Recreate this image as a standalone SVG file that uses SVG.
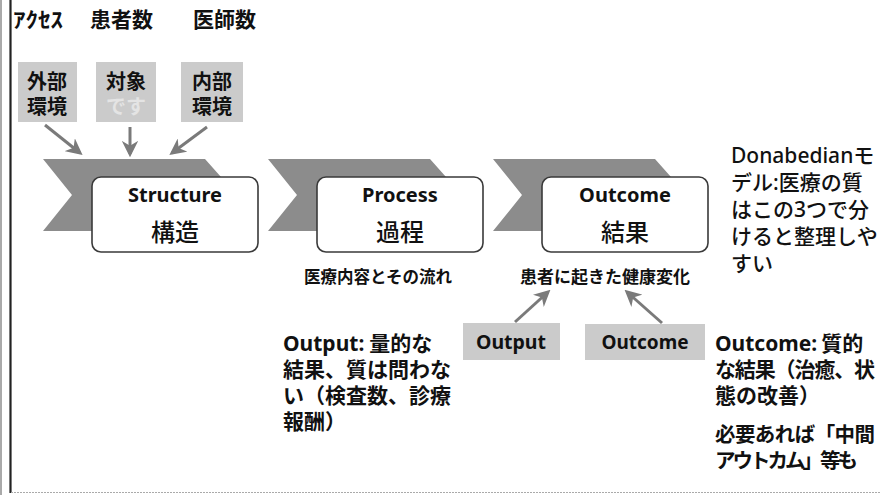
<svg xmlns="http://www.w3.org/2000/svg" width="881" height="495" viewBox="0 0 881 495">
<defs>
<style>
.jp{font-family:"Noto Sans","Noto Sans CJK JP",sans-serif;fill:#111}
.b{font-weight:bold}
.chev{fill:#8c8c8c}
.box{fill:#fff;stroke:#3a3a3a;stroke-width:1.6}
.tag{fill:#cbcbcb}
.arr{stroke:#7a7a7a;stroke-width:3;fill:none;marker-end:url(#ah)}
</style>
<marker id="ah" viewBox="0 0 10 10" refX="8" refY="5" markerWidth="5.5" markerHeight="5.5" orient="auto" markerUnits="strokeWidth">
<path d="M0,0 L10,5 L0,10 L3,5 Z" fill="#7a7a7a"/>
</marker>
</defs>
<rect width="881" height="495" fill="#fff"/>
<g id="frame">
<line x1="1" y1="0" x2="1" y2="495" stroke="#555" stroke-width="1"/>
<line x1="10.5" y1="0" x2="10.5" y2="493" stroke="#222" stroke-width="2.2"/>
<line x1="11" y1="492.5" x2="881" y2="492.5" stroke="#aaa" stroke-width="1" stroke-dasharray="2,1"/>
</g>
<g id="top-labels">
<text class="jp b" x="13" y="27" font-size="21" textLength="50" lengthAdjust="spacingAndGlyphs">ｱｸｾｽ</text>
<text class="jp b" x="90" y="27" font-size="21">患者数</text>
<text class="jp b" x="193" y="27" font-size="21">医師数</text>
</g>
<g id="gaibu">
<rect class="tag" x="18" y="62" width="59" height="60"/>
<text class="jp b" x="47" y="89" font-size="20" text-anchor="middle">外部</text>
<text class="jp b" x="47" y="114" font-size="20" text-anchor="middle">環境</text>
</g>
<g id="taisho">
<rect class="tag" x="96" y="62" width="60" height="60"/>
<text class="jp b" x="126" y="89" font-size="20" text-anchor="middle">対象</text>
<text class="jp b" x="126" y="114" font-size="20" text-anchor="middle" style="fill:#e4e4e4">です</text>
</g>
<g id="naibu">
<rect class="tag" x="181" y="62" width="62" height="60"/>
<text class="jp b" x="212" y="89" font-size="20" text-anchor="middle">内部</text>
<text class="jp b" x="212" y="114" font-size="20" text-anchor="middle">環境</text>
</g>
<g id="structure">
<polygon class="chev" points="43,159 205,159 237,195 205,231 43,231 72,195"/>
<rect class="box" x="92" y="177" width="166" height="75" rx="9"/>
<text class="jp b" x="175" y="202" font-size="20" text-anchor="middle">Structure</text>
<text class="jp" x="175" y="241" font-size="24" text-anchor="middle" font-weight="500">構造</text>
</g>
<g id="process">
<polygon class="chev" points="268,159 430,159 462,195 430,231 268,231 297,195"/>
<rect class="box" x="317" y="177" width="166" height="75" rx="9"/>
<text class="jp b" x="400" y="202" font-size="20" text-anchor="middle">Process</text>
<text class="jp" x="400" y="241" font-size="24" text-anchor="middle" font-weight="500">過程</text>
</g>
<g id="outcome">
<polygon class="chev" points="493,159 655,159 687,195 655,231 493,231 522,195"/>
<rect class="box" x="542" y="177" width="166" height="75" rx="9"/>
<text class="jp b" x="625" y="202" font-size="20" text-anchor="middle">Outcome</text>
<text class="jp" x="625" y="241" font-size="24" text-anchor="middle" font-weight="500">結果</text>
</g>
<g id="process-note">
<text class="jp b" x="378" y="283" font-size="16.5" text-anchor="middle">医療内容とその流れ</text>
</g>
<g id="outcome-note">
<text class="jp b" x="605" y="283" font-size="17" text-anchor="middle">患者に起きた健康変化</text>
</g>
<g id="output-tag">
<rect class="tag" x="463" y="323" width="97" height="37"/>
<text class="jp b" x="511" y="349" font-size="19.5" text-anchor="middle">Output</text>
</g>
<g id="outcome-tag">
<rect class="tag" x="585" y="324" width="120" height="36"/>
<text class="jp b" x="645" y="349" font-size="19" text-anchor="middle">Outcome</text>
</g>
<g id="donabedian">
<text class="jp" x="731" y="163" font-size="21" font-weight="500">Donabedianモ</text>
<text class="jp" x="731" y="190" font-size="21" font-weight="500">デル:医療の質</text>
<text class="jp" x="731" y="217" font-size="21" font-weight="500">はこの3つで分</text>
<text class="jp" x="731" y="244" font-size="21" font-weight="500">けると整理しや</text>
<text class="jp" x="731" y="271" font-size="21" font-weight="500">すい</text>
</g>
<g id="output-desc">
<text class="jp b" x="283" y="351" font-size="21">Output:<tspan dx="5">量的な</tspan></text>
<text class="jp b" x="283" y="377" font-size="21">結果、質は問わな</text>
<text class="jp b" x="283" y="403" font-size="21">い（検査数、診療</text>
<text class="jp b" x="283" y="429" font-size="21">報酬）</text>
</g>
<g id="outcome-desc">
<text class="jp b" x="715" y="351" font-size="21">Outcome:<tspan dx="4">質的</tspan></text>
<text class="jp b" x="715" y="377" font-size="21" textLength="160">な結果（治癒、状</text>
<text class="jp b" x="715" y="403" font-size="21">態の改善）</text>
<text class="jp b" x="715" y="442" font-size="20.5" textLength="160">必要あれば「中間</text>
<text class="jp b" x="715" y="468" font-size="20.5" textLength="143">アウトカム」等も</text>
</g>
<g id="connectors">
<line class="arr" x1="45" y1="125" x2="80" y2="153"/>
<line class="arr" x1="130" y1="127" x2="130" y2="154"/>
<line class="arr" x1="207" y1="127" x2="172" y2="153"/>
<line class="arr" x1="515" y1="322" x2="548" y2="292"/>
<line class="arr" x1="662" y1="323" x2="627" y2="292"/>
</g>
</svg>
